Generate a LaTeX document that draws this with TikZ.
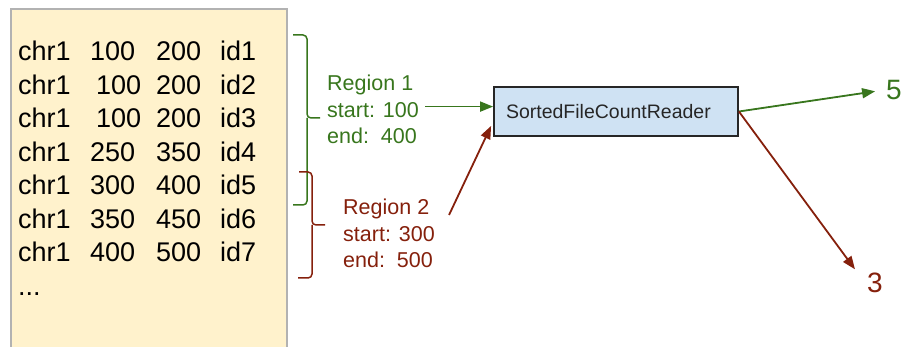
\documentclass[tikz,border=0pt]{standalone}
\usepackage{fontspec}
\setmainfont{Liberation Sans}
\usepackage{xcolor}
\usepackage{tikz}
\usetikzlibrary{arrows.meta, positioning}
\definecolor{regone}{HTML}{38761D}
\definecolor{regtwo}{HTML}{85200C}
\definecolor{filebg}{HTML}{FFF2CC}
\definecolor{readerbg}{HTML}{CFE2F3}

\begin{document}
\begin{tikzpicture}[
    x=1pt, y=-1pt,
    file/.style={draw=black!30, line width=1.5pt, fill=filebg, minimum width=276pt,
                 minimum height=350pt, inner sep=0pt},
    rec/.style={font=\fontsize{27}{27}\selectfont, text=black, inner sep=0pt,
                anchor=base west},
    reader/.style={draw=black!85, line width=1.8pt, fill=readerbg, text width=220pt,
                   inner xsep=12pt, minimum height=49pt, align=left,
                   font=\fontsize{19.5}{19.5}\selectfont, text=black!85},
    region/.style={font=\fontsize{21.5}{26.5}\selectfont, align=left, inner sep=0pt,
                   anchor=north west},
    count/.style={font=\fontsize{28}{28}\selectfont, inner sep=2pt},
    brace/.style={line width=1.5pt, rounded corners=4pt},
    arr/.style={-{Triangle[length=13pt, width=10pt]}, line width=1.8pt}
]
\useasboundingbox (0,0) rectangle (906,347);
\clip (0,0) rectangle (906,347);

\node[file] (file) at (149,184) {};
\foreach \i/\a/\b/\w/\v in {1/100/200/72/66, 2/100/200/78/60, 3/100/200/78/60,
                            4/250/350/72/66, 5/300/400/72/66, 6/350/450/72/66,
                            7/400/500/72/66}
  \node[rec] (row\i) at (18,{61+33.5*(\i-1)})
    {\makebox[\w pt][l]{chr1}\makebox[\v pt][l]{\a}\makebox[64pt][l]{\b}id\i};
\node[rec] (more) at (18,296) {...};

\draw[brace, regone] (293,35) -| (307,118) -- (320,118);
\draw[brace, regone] (293,205) -| (307,118);
\draw[brace, regtwo] (299,172) -| (312,225) -- (325,225);
\draw[brace, regtwo] (298,278) -| (312,225);

\node[region, text=regone] (reg1) at (327,75) {Region 1\\start: 100\\end:\ \ 400};
\node[region, text=regtwo] (reg2) at (343,199) {Region 2\\start: 300\\end:\ \ 500};

\node[reader] (reader) at (616,111.5) {SortedFileCountReader};
\node[count, text=regone] (n5) at (894,90) {5};
\node[count, text=regtwo] (n3) at (875,283) {3};

\draw[arr, regone, shorten <=6pt] ([yshift=3pt]reg1.east) -- ([yshift=3pt]reg1.east -| reader.west);
\draw[arr, regtwo] ([xshift=14pt, yshift=-16pt]reg2.north east) -- ([xshift=-2pt, yshift=11pt]reader.south west);
\draw[arr, regone, shorten >=9pt] (reader.east) -- (n5.west);
\draw[arr, regtwo, shorten >=17pt] (reader.east) -- (n3.west);
\end{tikzpicture}
\end{document}
